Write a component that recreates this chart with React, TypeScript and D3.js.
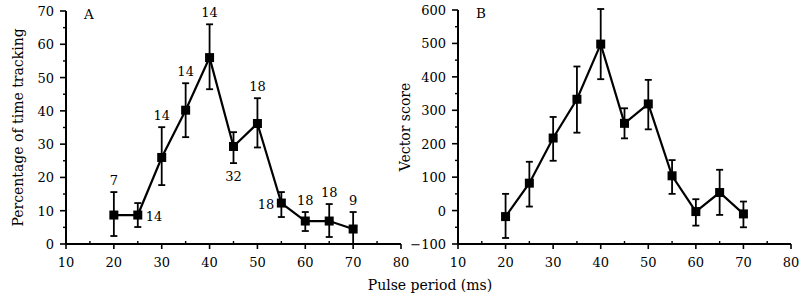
import React from "react";
import * as d3 from "d3";

// Pulse periods (ms) shared by both panels
const periods = [20, 25, 30, 35, 40, 45, 50, 55, 60, 65, 70];

// Panel A: percentage of time tracking, with error limits and n per point
const trackMean = [8.7, 8.7, 26, 40.2, 56, 29.3, 36.2, 12.3, 6.9, 6.9, 4.5];
const trackLow = [2.4, 5.1, 17.7, 32.1, 46.5, 24.3, 29, 8.1, 3.9, 2.1, 0];
const trackHigh = [15.6, 12.3, 35.1, 48.3, 66, 33.6, 43.8, 15.6, 9.6, 12, 9.6];
const trackN = ["7", "14", "14", "14", "14", "32", "18", "18", "18", "18", "9"];
const trackNPos = ["above", "right", "above", "above", "above", "below", "above", "left", "above", "above", "above"];

// Panel B: vector score
const vectorMean = [-18, 82, 217, 333, 498, 261, 319, 104, -3, 54, -10];
const vectorLow = [-82, 12, 149, 233, 393, 216, 243, 50, -45, -13, -50];
const vectorHigh = [50, 146, 280, 431, 603, 306, 391, 151, 34, 122, 27];

const xTicks = [10, 20, 30, 40, 50, 60, 70, 80];
const trackTicks = [0, 10, 20, 30, 40, 50, 60, 70];
const vectorTicks = [-100, 0, 100, 200, 300, 400, 500, 600];

const FONT = "'DejaVu Serif', 'Liberation Serif', serif";

type PanelProps = {
  x0: number;
  x1: number;
  y0: number;
  y1: number;
  yDomain: [number, number];
  yTicks: number[];
  yMinorStep: number;
  mean: number[];
  low: number[];
  high: number[];
  letter: string;
  yLabel: string;
  yLabelX: number;
  counts?: string[];
  countPos?: string[];
};

function Panel(p: PanelProps) {
  const x = d3.scaleLinear().domain([10, 80]).range([p.x0, p.x1]);
  const y = d3.scaleLinear().domain(p.yDomain).range([p.y1, p.y0]);
  const line = d3
    .line<number>()
    .x((_, i) => x(periods[i]))
    .y((d) => y(d));
  const xMinor = d3.range(15, 80, 10);
  const yMinor = d3.range(p.yDomain[0] + p.yMinorStep, p.yDomain[1], p.yMinorStep * 2);
  const cap = 3.5;
  const sq = 4.5;
  return (
    <g>
      {/* axes */}
      <line x1={p.x0} x2={p.x1} y1={p.y1} y2={p.y1} stroke="#000" strokeWidth={2} />
      <line x1={p.x0} x2={p.x0} y1={p.y0} y2={p.y1} stroke="#000" strokeWidth={2} />
      {xTicks.map((t) => (
        <g key={"xt" + t}>
          <line x1={x(t)} x2={x(t)} y1={p.y1} y2={p.y1 + 5} stroke="#000" strokeWidth={1.6} />
          <text x={x(t)} y={p.y1 + 23} textAnchor="middle" fontSize={13} fontFamily={FONT}>
            {t}
          </text>
        </g>
      ))}
      {xMinor.map((t) => (
        <line key={"xm" + t} x1={x(t)} x2={x(t)} y1={p.y1} y2={p.y1 - 3} stroke="#000" strokeWidth={1.4} />
      ))}
      {p.yTicks.map((t) => (
        <g key={"yt" + t}>
          <line x1={p.x0 - 6} x2={p.x0} y1={y(t)} y2={y(t)} stroke="#000" strokeWidth={1.6} />
          <text x={p.x0 - 12} y={y(t) + 5} textAnchor="end" fontSize={13} fontFamily={FONT}>
            {t < 0 ? "\u2212" + Math.abs(t) : t}
          </text>
        </g>
      ))}
      {yMinor.map((t) => (
        <line key={"ym" + t} x1={p.x0 - 3} x2={p.x0} y1={y(t)} y2={y(t)} stroke="#000" strokeWidth={1.4} />
      ))}
      <text x={p.x0 + 18} y={p.y0 + 8} fontSize={13.5} fontFamily={FONT}>
        {p.letter}
      </text>
      <text
        transform={`translate(${p.yLabelX},${(p.y0 + p.y1) / 2}) rotate(-90)`}
        textAnchor="middle"
        fontSize={14}
        fontFamily={FONT}
      >
        {p.yLabel}
      </text>
      {/* data line */}
      <path d={line(p.mean) ?? ""} fill="none" stroke="#000" strokeWidth={2.2} />
      {/* error bars */}
      {periods.map((pp, i) => (
        <g key={"e" + pp} stroke="#000" strokeWidth={1.8}>
          <line x1={x(pp)} x2={x(pp)} y1={y(p.low[i])} y2={y(p.high[i])} />
          <line x1={x(pp) - cap} x2={x(pp) + cap} y1={y(p.low[i])} y2={y(p.low[i])} />
          <line x1={x(pp) - cap} x2={x(pp) + cap} y1={y(p.high[i])} y2={y(p.high[i])} />
        </g>
      ))}
      {/* markers */}
      {periods.map((pp, i) => (
        <rect key={"m" + pp} x={x(pp) - sq} y={y(p.mean[i]) - sq} width={sq * 2} height={sq * 2} fill="#000" />
      ))}
      {/* sample sizes */}
      {p.counts &&
        p.counts.map((c, i) => {
          const pos = p.countPos![i];
          const px = x(periods[i]);
          let tx = px;
          let ty = y(p.high[i]) - 7;
          let anchor = "middle";
          if (pos === "below") {
            ty = y(p.low[i]) + 18;
          } else if (pos === "right") {
            tx = px + 8;
            ty = y(p.mean[i]) + 6;
            anchor = "start";
          } else if (pos === "left") {
            tx = px - 7;
            ty = y(p.mean[i]) + 6;
            anchor = "end";
          }
          return (
            <text key={"n" + i} x={tx} y={ty} textAnchor={anchor} fontSize={13} fontFamily={FONT}>
              {c}
            </text>
          );
        })}
    </g>
  );
}

export default function App() {
  return (
    <svg
      width={805}
      height={297}
      style={{ position: "absolute", left: 0, top: 0, background: "#fff" }}
    >
      <rect width={805} height={297} fill="#fff" />
      <Panel
        x0={66}
        x1={401}
        y0={11}
        y1={244}
        yDomain={[0, 70]}
        yTicks={trackTicks}
        yMinorStep={5}
        mean={trackMean}
        low={trackLow}
        high={trackHigh}
        letter="A"
        yLabel="Percentage of time tracking"
        yLabelX={23}
        counts={trackN}
        countPos={trackNPos}
      />
      <Panel
        x0={458}
        x1={791}
        y0={10}
        y1={244}
        yDomain={[-100, 600]}
        yTicks={vectorTicks}
        yMinorStep={50}
        mean={vectorMean}
        low={vectorLow}
        high={vectorHigh}
        letter="B"
        yLabel="Vector score"
        yLabelX={410}
      />
      <text x={430} y={290} textAnchor="middle" fontSize={14} fontFamily={FONT}>
        Pulse period (ms)
      </text>
    </svg>
  );
}
